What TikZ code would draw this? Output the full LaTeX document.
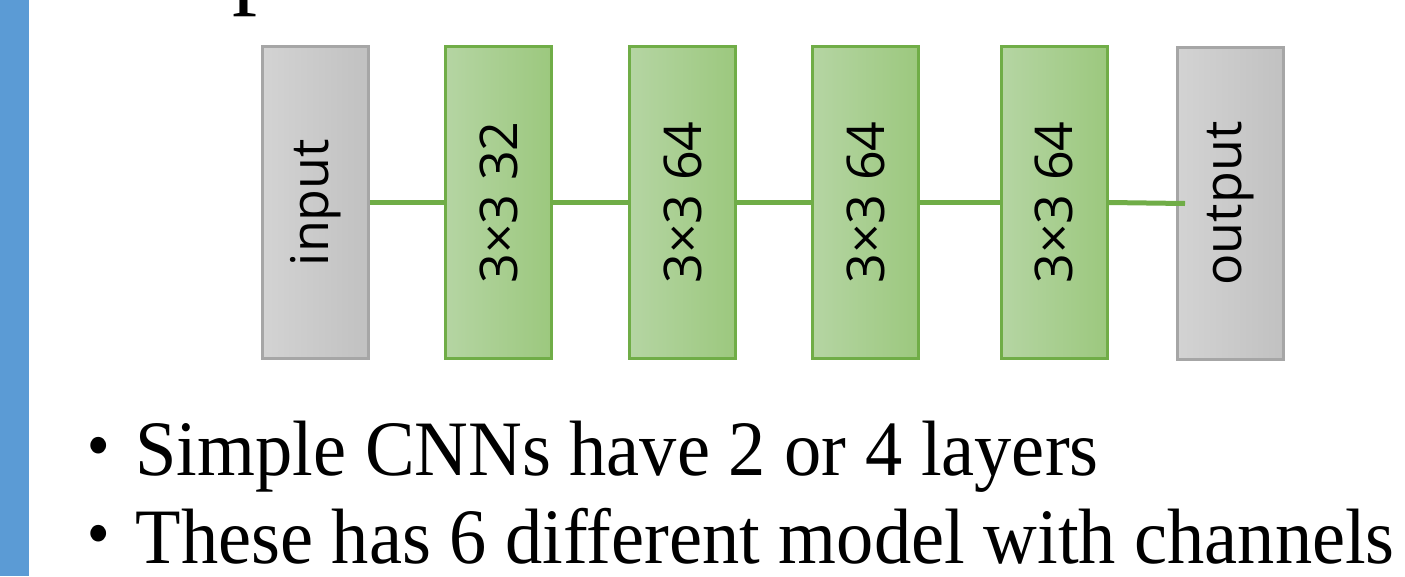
\documentclass[tikz,border=0pt]{standalone}
\usepackage{fontspec}
\setmainfont{Liberation Serif}
\newfontfamily\boxfont{Open Sans}
\newfontfamily\cjk{Noto Sans CJK JP}
\usetikzlibrary{positioning}

\definecolor{barblue}{HTML}{5B9BD5}
\definecolor{convedge}{HTML}{70AD47}
\definecolor{convleft}{HTML}{B5D5A3}
\definecolor{convright}{HTML}{9CC87E}
\definecolor{ioedge}{HTML}{A6A6A6}
\definecolor{ioleft}{HTML}{D3D3D3}
\definecolor{ioright}{HTML}{C1C1C1}

% slightly condensed body text
\newcommand{\narrowtext}[1]{\scalebox{0.948}[1]{#1}}

\tikzset{
  block/.style={line width=3pt, minimum width=106pt, minimum height=312pt,
    inner sep=0pt, font=\boxfont\fontsize{52}{52}\selectfont},
  conv/.style={block, draw=convedge, shade, left color=convleft, right color=convright},
  io/.style={block, draw=ioedge, shade, left color=ioleft, right color=ioright},
  link/.style={draw=convedge, line width=5pt},
  bullet/.style={anchor=base west, inner sep=0pt, font=\fontsize{78.5}{78.5}\selectfont}
}

\begin{document}
\begin{tikzpicture}[x=1pt,y=-1pt]
\useasboundingbox (0,0) rectangle (1405,576);
\clip (0,0) rectangle (1405,576);
\fill[barblue] (0,0) rectangle (29,576);
% tail of the heading above
\node[anchor=base west, inner sep=0pt, font=\fontsize{100}{100}\selectfont] (head) at (232,-5) {p};

% the network, left to right
\node[io] (input) at (315.5,202.5) {\rotatebox{90}{input}};
\node[conv] (l1) at (498.5,202.5) {\rotatebox{90}{3×3 32}};
\node[conv] (l2) at (682.5,202.5) {\rotatebox{90}{3×3 64}};
\node[conv] (l3) at (865.5,202.5) {\rotatebox{90}{3×3 64}};
\node[conv] (l4) at (1054,202.5) {\rotatebox{90}{3×3 64}};
\node[io] (out) at (1230.5,203.5) {\rotatebox{90}{output}};

\draw[link] (input) -- (l1);
\draw[link] (l1) -- (l2);
\draw[link] (l2) -- (l3);
\draw[link] (l3) -- (l4);
\draw[link] (l4.east) -- ([xshift=9pt]out.west);

% notes underneath
\node[bullet] (note1) at (61,475) {\narrowtext{{\cjk ・}Simple CNNs have 2 or 4 layers}};
\node[bullet] (note2) at (61,563) {\narrowtext{{\cjk ・}These has 6 different model with channels}};
\end{tikzpicture}
\end{document}
